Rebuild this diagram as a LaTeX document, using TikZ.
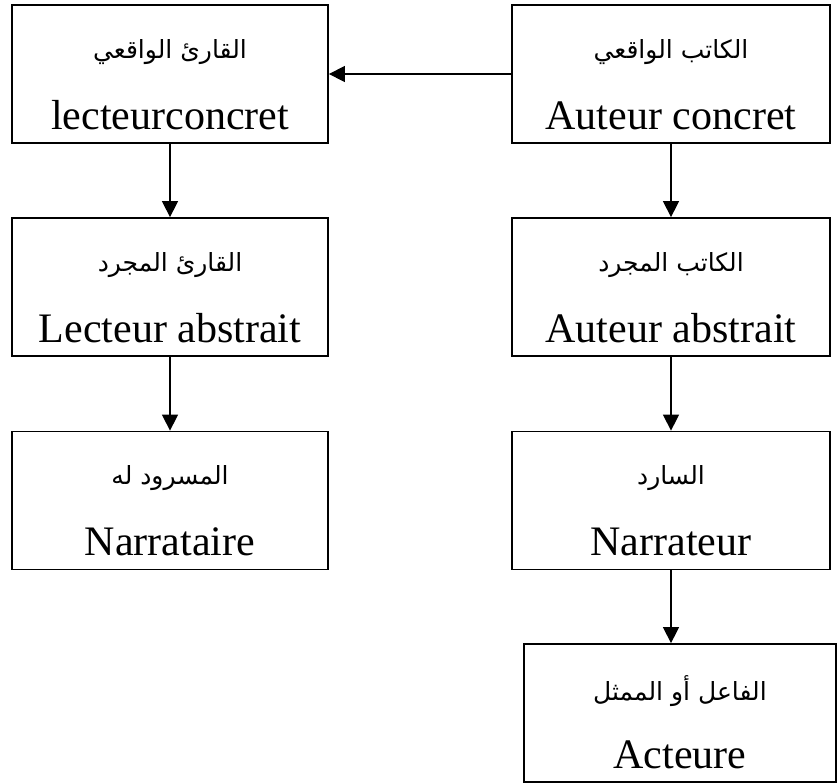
\documentclass[tikz,border=0pt]{standalone}
\usepackage{fontspec}
\setmainfont{Liberation Serif}
\newfontfamily\arabicfont[Script=Arabic]{DejaVu Sans}
\TeXXeTstate=1
\usetikzlibrary{arrows.meta}

\tikzset{
  box/.style={draw,line width=0.9pt,minimum width=158pt,minimum height=69pt,inner sep=0pt},
  artext/.style={inner sep=0pt,font=\arabicfont\fontsize{12.5}{14}\selectfont},
  latext/.style={inner sep=0pt,anchor=base,font=\fontsize{21}{23}\selectfont},
  link/.style={-{Triangle[length=8pt,width=8pt]},line width=0.7pt}
}
% one box: name, centre, width, arabic line, latin line
\newcommand{\entry}[5]{%
  \node[box,minimum width=#3] (#1) at (#2) {};
  \node[artext] (#1-ar) at ([yshift=11pt]#1.center) {#4};
  \node[latext] (#1-la) at ([yshift=-27.5pt]#1.center) {#5};
}

\begin{document}
\begin{tikzpicture}[x=0.5pt,y=-0.5pt]
\useasboundingbox (0,0) rectangle (839,783);

% Left column (reader)
\entry{lc}{170,74}{158pt}{\beginR القارئ الواقعي\endR}{lecteurconcret}
\entry{la}{170,287}{158pt}{\beginR القارئ المجرد\endR}{Lecteur abstrait}
\entry{nt}{170,500.5}{158pt}{\beginR المسرود له\endR}{Narrataire}

% Right column (author)
\entry{ac}{671,74}{159pt}{\beginR الكاتب الواقعي\endR}{Auteur concret}
\entry{aa}{671,287}{159pt}{\beginR الكاتب المجرد\endR}{Auteur abstrait}
\entry{nr}{671,500.5}{159pt}{\beginR السارد\endR}{Narrateur}
\entry{act}{680,713}{156pt}{\beginR الفاعل أو الممثل\endR}{Acteure}

% Arrows
\draw[link] (ac.west) -- (lc.east);
\draw[link] (lc.south) -- (la.north);
\draw[link] (la.south) -- (nt.north);
\draw[link] (ac.south) -- (aa.north);
\draw[link] (aa.south) -- (nr.north);
\draw[link] (nr.south) -- (nr.south |- act.north);

\end{tikzpicture}
\end{document}
